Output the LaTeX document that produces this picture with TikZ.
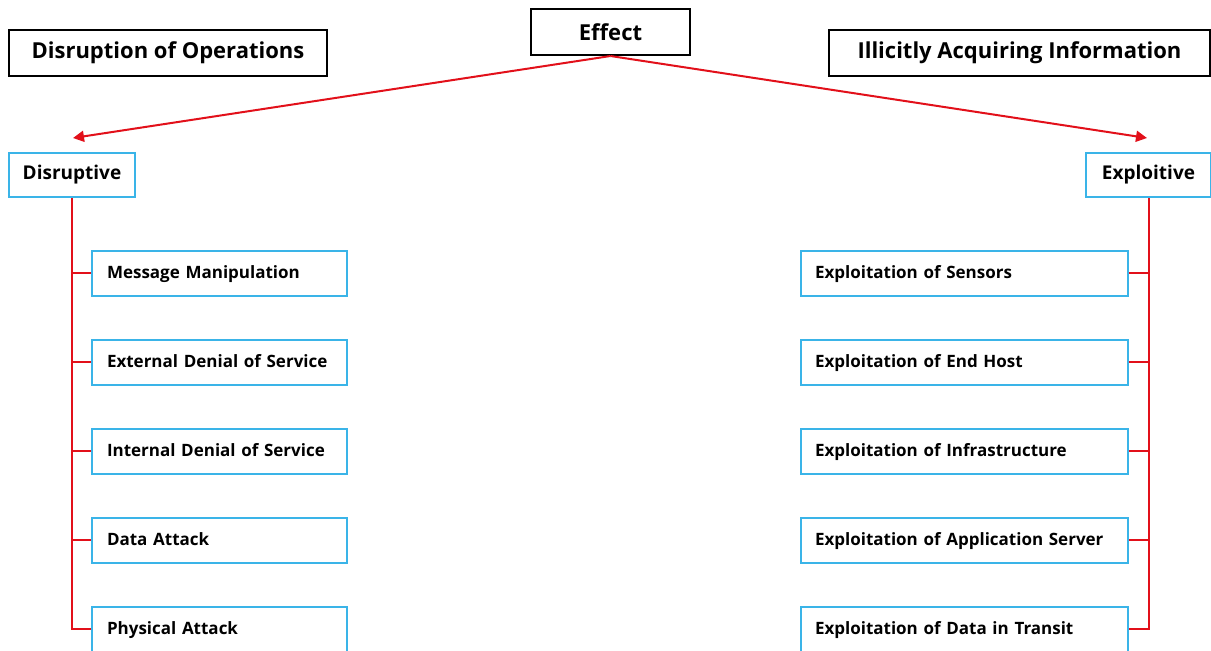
\documentclass[tikz,border=0pt]{standalone}
\usepackage{fontspec}
\setmainfont{Open Sans}
\usetikzlibrary{arrows.meta}
\definecolor{linkred}{HTML}{E2101A}
\definecolor{boxblue}{HTML}{3AB4E8}
\tikzset{
  titlebox/.style={draw=black, line width=2pt, fill=white, inner sep=0pt,
    font=\bfseries\fontsize{22}{25}\selectfont, anchor=north west},
  catbox/.style={draw=boxblue, line width=2pt, fill=white, inner sep=0pt,
    font=\bfseries\fontsize{19}{22}\selectfont, anchor=north west},
  leafbox/.style={draw=boxblue, line width=2pt, fill=white, inner sep=0pt,
    font=\bfseries\fontsize{17}{20}\selectfont, anchor=west, minimum height=45pt,
    text depth=2pt},
  link/.style={draw=linkred, line width=2pt},
  arrowlink/.style={link, -{Triangle[length=11pt,width=11pt]}},
}
\begin{document}
\begin{tikzpicture}[x=1pt,y=-1pt]
\useasboundingbox (0,0) rectangle (1211,651);

% top level
\node[titlebox, minimum width=159pt, minimum height=46pt] (effect) at (530,8) {Effect};
\node[titlebox, minimum width=318pt, minimum height=46pt] (disrop) at (8,29) {Disruption of Operations};
\node[titlebox, minimum width=381pt, minimum height=46pt] (illicit) at (828,29) {Illicitly Acquiring Information};

% categories
\node[catbox, minimum width=126pt, minimum height=44pt] (disr) at (8,152) {Disruptive};
\node[catbox, minimum width=125pt, minimum height=44pt] (expl) at (1085,152) {Exploitive};

\coordinate (ltip) at (73,138);
\coordinate (rtip) at (1147,138);
\draw[arrowlink] (effect.south) -- (ltip);
\draw[arrowlink] (effect.south) -- (rtip);

% disruptive leaves
\foreach \name/\y/\txt in {
  dmm/273/Message Manipulation,
  dext/362/External Denial of Service,
  dint/451/Internal Denial of Service,
  ddata/540/Data Attack,
  dphys/629/Physical Attack}{
  \node[leafbox, text width=225pt, align=left, inner xsep=15pt] (\name) at (91,\y) {\txt};
  \draw[link] (disr.south) |- (\name.west);
}

% exploitive leaves
\foreach \name/\y/\txt in {
  esens/273/Exploitation of Sensors,
  ehost/362/Exploitation of End Host,
  einfra/451/Exploitation of Infrastructure,
  eapp/540/Exploitation of Application Server,
  etrans/629/Exploitation of Data in Transit}{
  \node[leafbox, text width=299pt, align=left, inner xsep=14pt] (\name) at (800,\y) {\txt};
  \draw[link] (expl.south) |- (\name.east);
}
\end{tikzpicture}
\end{document}
